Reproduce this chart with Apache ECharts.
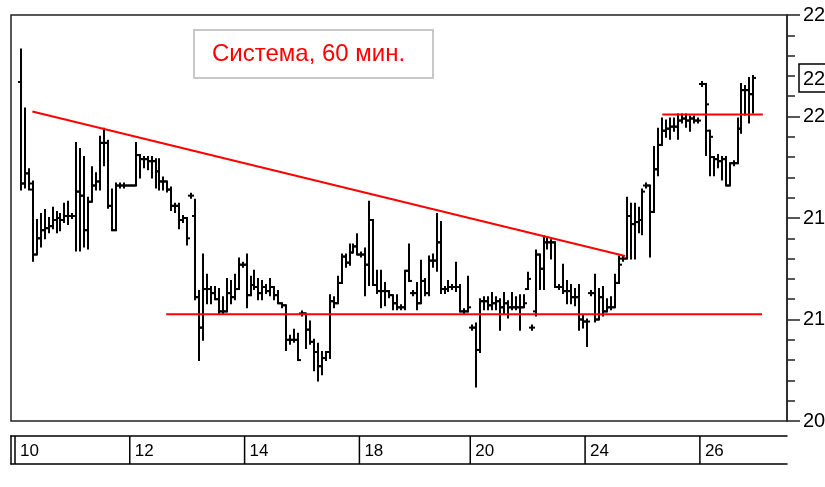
<!DOCTYPE html>
<html>
<head>
<meta charset="utf-8">
<script src="https://cdn.jsdelivr.net/npm/echarts@6/dist/echarts.min.js"></script>
<style>
  html, body { margin: 0; padding: 0; background: #fff; }
  #chart { width: 825px; height: 487px; }
</style>
</head>
<body>
<div id="chart"></div>
<script>
// hourly bars
const openPrices = [
  2217,2167,2172,2164,2132,2140,2144,2145,2146,2149,
  2150,2149,2151,2151,2151,2163,2161,2144,2158,2166,
  2168,2187,2187,2156,2144,2166,2166,2166,2166,2166,
  2181,2179,2179,2178,2178,2173,2168,2168,2164,2156,
  2156,2149,2150,2161,2151,2111,2096,2115,2115,2113,
  2110,2104,2104,2113,2111,2115,2127,2127,2112,2117,
  2116,2113,2116,2114,2116,2112,2108,2107,2090,2090,
  2090,2103,2103,2095,2089,2084,2077,2081,2084,2109,
  2108,2118,2131,2128,2133,2136,2132,2132,2127,2149,
  2117,2114,2114,2114,2112,2108,2106,2106,2124,2113,
  2113,2108,2119,2113,2129,2129,2138,2115,2115,2116,
  2116,2116,2104,2104,2096,2096,2085,2109,2109,2107,
  2108,2109,2106,2108,2106,2106,2106,2106,2115,2096,
  2104,2132,2125,2138,2138,2138,2116,2116,2114,2114,
  2111,2111,2100,2099,2113,2113,2100,2111,2104,2106,
  2106,2118,2130,2130,2151,2147,2148,2149,2166,2166,
  2153,2174,2186,2193,2194,2195,2195,2198,2199,2198,
  2199,2198,2216,2216,2193,2180,2179,2178,2179,2166,
  2177,2177,2194,2213,2213,2211
];
const highPrices = [
  2233,2204,2174,2168,2149,2152,2154,2150,2155,2153,
  2152,2157,2158,2152,2187,2184,2180,2160,2175,2172,
  2190,2194,2188,2164,2167,2167,2167,2166,2166,2187,
  2181,2180,2180,2180,2179,2179,2170,2168,2165,2157,
  2157,2151,2150,2162,2159,2114,2132,2122,2116,2116,
  2115,2111,2120,2119,2122,2130,2128,2132,2121,2124,
  2120,2119,2117,2120,2116,2114,2108,2107,2092,2095,
  2093,2104,2103,2099,2090,2088,2084,2084,2112,2111,
  2121,2132,2132,2137,2137,2142,2133,2135,2158,2149,
  2124,2124,2118,2114,2112,2112,2107,2124,2137,2114,
  2118,2129,2120,2131,2132,2152,2148,2116,2119,2117,
  2128,2117,2105,2121,2097,2098,2110,2111,2111,2113,
  2111,2110,2113,2109,2113,2111,2112,2112,2123,2097,
  2134,2132,2141,2140,2139,2138,2117,2127,2119,2117,
  2115,2117,2102,2100,2114,2122,2115,2116,2110,2111,
  2122,2131,2131,2160,2157,2157,2155,2164,2167,2166,
  2185,2194,2199,2198,2199,2199,2201,2201,2201,2200,
  2200,2199,2217,2216,2193,2180,2181,2180,2180,2177,
  2178,2199,2216,2215,2219,2220
];
const lowPrices = [
  2164,2165,2164,2129,2132,2136,2140,2143,2145,2143,
  2144,2148,2147,2150,2134,2134,2136,2135,2158,2164,
  2164,2176,2155,2144,2144,2165,2165,2166,2166,2166,
  2170,2175,2174,2170,2165,2164,2164,2163,2154,2153,
  2145,2148,2137,2160,2110,2080,2090,2108,2108,2110,
  2103,2103,2104,2108,2110,2115,2126,2106,2112,2115,
  2110,2110,2113,2112,2110,2108,2106,2085,2088,2089,
  2080,2102,2086,2088,2075,2070,2073,2080,2081,2106,
  2108,2118,2126,2127,2133,2132,2131,2112,2117,2117,
  2113,2106,2107,2111,2105,2105,2105,2105,2119,2112,
  2105,2108,2112,2112,2126,2124,2113,2113,2114,2115,
  2114,2104,2103,2104,2095,2067,2084,2105,2105,2105,
  2105,2095,2103,2101,2105,2105,2095,2106,2115,2095,
  2102,2115,2115,2135,2130,2116,2115,2113,2108,2108,
  2107,2095,2096,2087,2112,2099,2100,2102,2104,2105,
  2106,2118,2129,2130,2130,2130,2143,2142,2165,2131,
  2153,2171,2186,2190,2189,2193,2189,2197,2195,2193,
  2197,2197,2215,2181,2171,2171,2175,2169,2166,2166,
  2176,2177,2192,2201,2197,2202
];
const closePrices = [
  2167,2172,2167,2132,2140,2144,2145,2146,2149,2150,
  2149,2151,2151,2151,2163,2161,2144,2158,2166,2168,
  2187,2187,2156,2144,2166,2166,2166,2166,2166,2181,
  2179,2179,2178,2178,2173,2168,2168,2164,2156,2156,
  2149,2150,2140,2161,2111,2096,2115,2115,2113,2110,
  2104,2104,2113,2111,2115,2127,2127,2112,2117,2116,
  2113,2116,2114,2116,2112,2108,2107,2090,2090,2090,
  2080,2103,2095,2089,2084,2077,2081,2084,2109,2108,
  2118,2131,2128,2133,2136,2132,2132,2127,2149,2117,
  2114,2114,2114,2112,2108,2106,2106,2124,2119,2113,
  2108,2119,2113,2129,2129,2138,2115,2115,2116,2116,
  2116,2104,2104,2106,2096,2085,2109,2109,2107,2108,
  2109,2106,2108,2106,2106,2106,2106,2108,2120,2096,
  2132,2125,2138,2138,2138,2116,2116,2114,2114,2111,
  2111,2100,2099,2099,2113,2100,2111,2104,2106,2106,
  2118,2127,2130,2151,2147,2148,2149,2163,2166,2153,
  2174,2186,2193,2194,2195,2195,2198,2199,2198,2199,
  2198,2198,2216,2206,2190,2179,2178,2179,2166,2177,
  2177,2194,2213,2213,2211,2219
];

// session days on the lower strip: label and index of the first bar
const dayLabels = ['10', '12', '14', '18', '20', '24', '26'];
const dayStarts = [-2, 28, 57, 86, 114, 143, 172];

// hand-drawn lines: [bar index, price]
const trendLine = [[2.9, 2202.5], [152.6, 2131.3]];
const supportLine = [[36.7, 2102.6], [187.2, 2102.6]];
const resistanceLine = [[162, 2201], [187.4, 2201]];

const lastClose = closePrices[closePrices.length - 1];

const myChart = echarts.init(document.getElementById('chart'));

const ohlcData = openPrices.map((o, i) => [i, o, highPrices[i], lowPrices[i], closePrices[i]]);
const dayData = dayStarts.map((d, i) => [d, i]);

const labelFont = '"Liberation Sans", Arial, sans-serif';

function renderBar(params, api) {
  const i = api.value(0);
  const o = api.coord([i, api.value(1)]);
  const h = api.coord([i, api.value(2)]);
  const l = api.coord([i, api.value(3)]);
  const c = api.coord([i, api.value(4)]);
  const x = Math.round(o[0]);
  const t = 3;
  const style = { stroke: '#000', lineWidth: 2 };
  return {
    type: 'group',
    children: [
      { type: 'line', shape: { x1: x, y1: h[1] - 1, x2: x, y2: l[1] + 1 }, style: style },
      { type: 'line', shape: { x1: x - t, y1: o[1], x2: x, y2: o[1] }, style: style },
      { type: 'line', shape: { x1: x, y1: c[1], x2: x + t, y2: c[1] }, style: style }
    ]
  };
}

function renderDay(params, api) {
  const x = api.coord([api.value(0) - 0.5, 0])[0];
  const cs = params.coordSys;
  const lineStyle = { stroke: '#000', lineWidth: 1.5 };
  const first = params.dataIndex === 0;
  const lx = first ? x + 4 : x;
  return {
    type: 'group',
    children: [
      {
        type: 'text',
        style: {
          text: dayLabels[api.value(1)],
          x: lx + 5,
          y: cs.y + cs.height / 2 + 1,
          verticalAlign: 'middle',
          fill: '#000',
          font: '17px ' + labelFont
        }
      },
      { type: 'line', shape: { x1: lx, y1: cs.y, x2: lx, y2: cs.y + cs.height }, style: lineStyle }
    ]
  };
}

const hiddenX = {
  type: 'value', min: -2.5, max: 193.5,
  axisLabel: { show: false }, axisTick: { show: false }, splitLine: { show: false }
};

const option = {
  animation: false,
  backgroundColor: '#fff',
  title: {
    text: 'Система, 60 мин.',
    left: 194,
    top: 30,
    padding: [12, 28, 12, 18],
    borderColor: '#c8c8c8',
    borderWidth: 2,
    textStyle: { color: '#ff0000', fontSize: 24, fontWeight: 'normal', fontFamily: labelFont }
  },
  grid: [
    { left: 11, right: 38, top: 15, bottom: 66, show: true, borderColor: '#222', borderWidth: 1.5,
      containLabel: false, outerBoundsMode: 'none' },
    { left: 11, right: 38, top: 436, height: 28, containLabel: false, outerBoundsMode: 'none' }
  ],
  xAxis: [
    Object.assign({ gridIndex: 0, axisLine: { show: false } }, hiddenX),
    Object.assign({ gridIndex: 1, position: 'bottom', axisLine: { show: true, onZero: false, lineStyle: { color: '#000', width: 1.5 } } }, hiddenX),
    Object.assign({ gridIndex: 1, position: 'top', axisLine: { show: true, onZero: false, lineStyle: { color: '#000', width: 1.5 } } }, hiddenX)
  ],
  yAxis: [
    {
      gridIndex: 0,
      type: 'value',
      position: 'right',
      min: 2050,
      max: 2250,
      interval: 50,
      axisLine: { show: true, onZero: false, lineStyle: { color: '#222', width: 1.5 } },
      axisTick: { show: true, length: 13, lineStyle: { color: '#222', width: 1.5 } },
      minorTick: { show: true, splitNumber: 5, length: 8, lineStyle: { color: '#222', width: 1.5 } },
      axisLabel: { margin: 16, color: '#000', fontSize: 20, fontFamily: labelFont, formatter: v => String(v) },
      splitLine: { show: false }
    },
    {
      gridIndex: 1, type: 'value', min: 0, max: 1, position: 'left',
      axisLine: { show: true, onZero: false, lineStyle: { color: '#000', width: 1.5 } },
      axisLabel: { show: false }, axisTick: { show: false }, splitLine: { show: false }
    }
  ],
  series: [
    {
      type: 'custom',
      name: 'bars',
      xAxisIndex: 0,
      yAxisIndex: 0,
      renderItem: renderBar,
      clip: true,
      encode: { x: 0, y: [1, 2, 3, 4] },
      data: ohlcData
    },
    {
      type: 'line', xAxisIndex: 0, yAxisIndex: 0, data: trendLine,
      symbol: 'none', silent: true, lineStyle: { color: '#ff0000', width: 2 }
    },
    {
      type: 'line', xAxisIndex: 0, yAxisIndex: 0, data: supportLine,
      symbol: 'none', silent: true, lineStyle: { color: '#ff0000', width: 2 }
    },
    {
      type: 'line', xAxisIndex: 0, yAxisIndex: 0, data: resistanceLine,
      symbol: 'none', silent: true, lineStyle: { color: '#ff0000', width: 2 }
    },
    {
      type: 'custom',
      name: 'days',
      xAxisIndex: 1,
      yAxisIndex: 1,
      renderItem: renderDay,
      encode: { x: 0 },
      data: dayData
    }
  ]
};

myChart.setOption(option);

// boxed last price next to the right axis
const lastY = myChart.convertToPixel({ yAxisIndex: 0 }, lastClose);
myChart.setOption({
  graphic: [{
    type: 'group',
    x: 799,
    y: Math.round(lastY) - 14,
    children: [
      { type: 'rect', shape: { x: 0, y: 0, width: 40, height: 28 }, style: { fill: '#fff', stroke: '#000', lineWidth: 1.5 } },
      { type: 'text', x: 4, y: 15, style: { text: String(lastClose), font: '20px ' + labelFont, fill: '#000', verticalAlign: 'middle' } }
    ]
  }]
});
</script>
</body>
</html>
